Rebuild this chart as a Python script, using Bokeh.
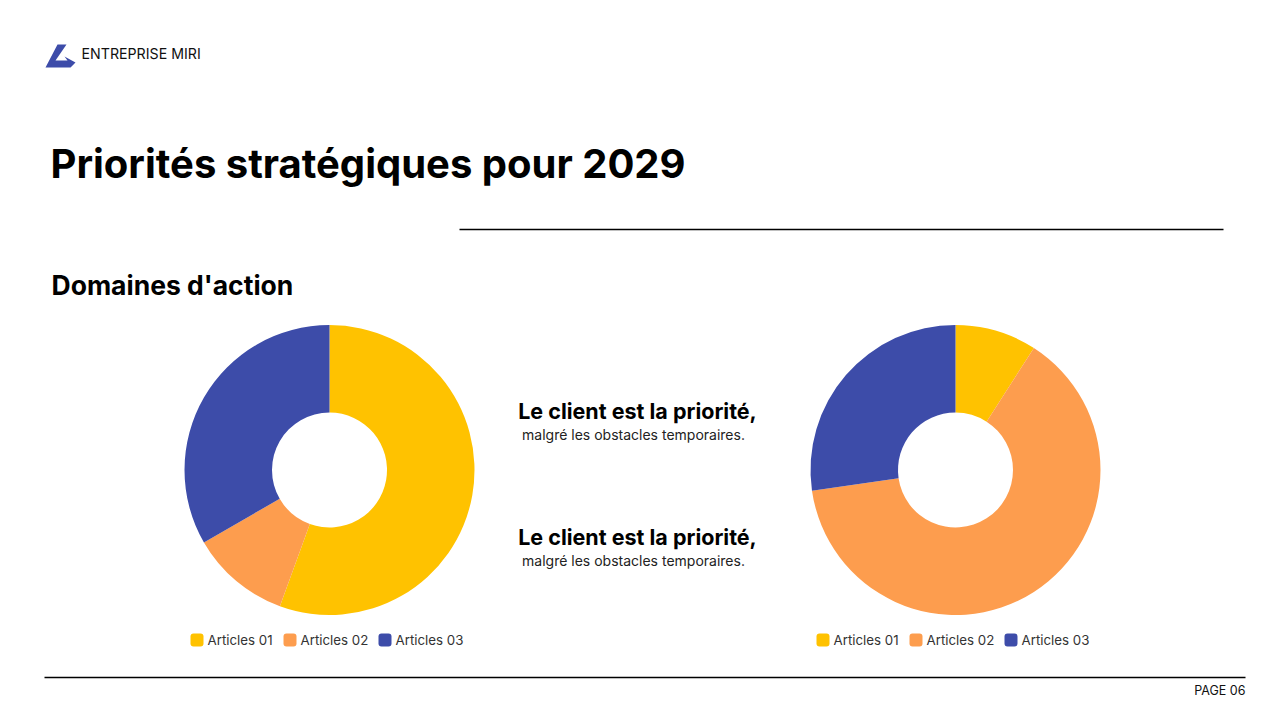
import math
from bokeh.plotting import figure
from bokeh.models import Range1d
from bokeh.embed import file_html
from bokeh.resources import INLINE
from bokeh.core.properties import value

# ---- data ----
categories = ["Articles 01", "Articles 02", "Articles 03"]
left_values = [50, 10, 30]
right_values = [10, 70, 30]
colors = ["#FFC200", "#FD9D4E", "#3D4CA9"]

title = "Priorités stratégiques pour 2029"
section = "Domaines d'action"
company = "ENTREPRISE MIRI"
page_label = "PAGE 06"
headline = "Le client est la priorité,"
subline = "malgré les obstacles temporaires."

W, H = 1264, 704
p = figure(width=W, height=H, output_backend="svg", toolbar_location=None,
           x_range=Range1d(0, 1264), y_range=Range1d(16, 720),
           min_border=0, outline_line_color=None)
p.axis.visible = False
p.grid.visible = False
p.background_fill_color = "white"
p.border_fill_color = "white"

def Y(py):
    return 720 - py

# logo
lx = [57, 66, 55, 67, 64, 75, 70, 45]
ly = [44, 44, 60, 60, 56, 62, 67, 67]
p.patch(lx, [Y(v) for v in ly], fill_color="#3D4CA9", line_color=None)

# header texts
p.text([81], [Y(53)], text=[company], text_font=value("Inter"), text_font_size="14.2px",
       text_color="#111111", text_baseline="middle", text_align="left")
p.text([50], [Y(163)], text=[title], text_font=value("Inter"), text_font_style="bold",
       text_font_size="40px", text_color="#000000", text_baseline="middle", text_align="left")
p.segment([459], [Y(229)], [1223], [Y(229)], line_color="#000000", line_width=1.5)
p.text([51], [Y(284)], text=[section], text_font=value("Inter"), text_font_style="bold",
       text_font_size="26.5px", text_color="#000000", text_baseline="middle", text_align="left")

# center texts
for cy in (410, 536):
    p.text([637], [Y(cy)], text=[headline], text_font=value("Inter"), text_font_style="bold",
           text_font_size="21.5px", text_color="#000000", text_baseline="middle", text_align="center")
    p.text([633], [Y(cy + 24)], text=[subline], text_font=value("Inter"),
           text_font_size="14px", text_color="#222222", text_baseline="middle", text_align="center")

# donuts
def donut(cx, cy, vals):
    total = float(sum(vals))
    cum = 0.0
    starts, ends = [], []
    for v in vals:
        s = math.pi / 2 - 2 * math.pi * cum / total
        cum += v
        e = math.pi / 2 - 2 * math.pi * cum / total
        starts.append(s)
        ends.append(e)
    p.annular_wedge(x=[cx] * len(vals), y=[Y(cy)] * len(vals), inner_radius=57.5,
                    outer_radius=145, start_angle=starts, end_angle=ends,
                    direction="clock", fill_color=colors, line_color=None)

donut(329, 469.5, left_values)
donut(955, 469.5, right_values)

# legends
def legend(x0):
    offsets = [0, 93, 188]
    for off, name, col in zip(offsets, categories, colors):
        p.quad(left=[x0 + off], right=[x0 + off + 13], top=[Y(633)], bottom=[Y(646)],
               fill_color=col, line_color=None, border_radius=3)
        p.text([x0 + off + 17], [Y(639)], text=[name], text_font=value("Inter"),
               text_font_size="13.3px", text_color="#333333", text_baseline="middle",
               text_align="left")

legend(190)
legend(816)

# footer
p.segment([44], [Y(677)], [1245], [Y(677)], line_color="#000000", line_width=1.5)
p.text([1245], [Y(690)], text=[page_label], text_font=value("Inter"), text_font_size="12.5px",
       text_color="#111111", text_baseline="middle", text_align="right")

open("out.html", "w").write(file_html(p, INLINE))
